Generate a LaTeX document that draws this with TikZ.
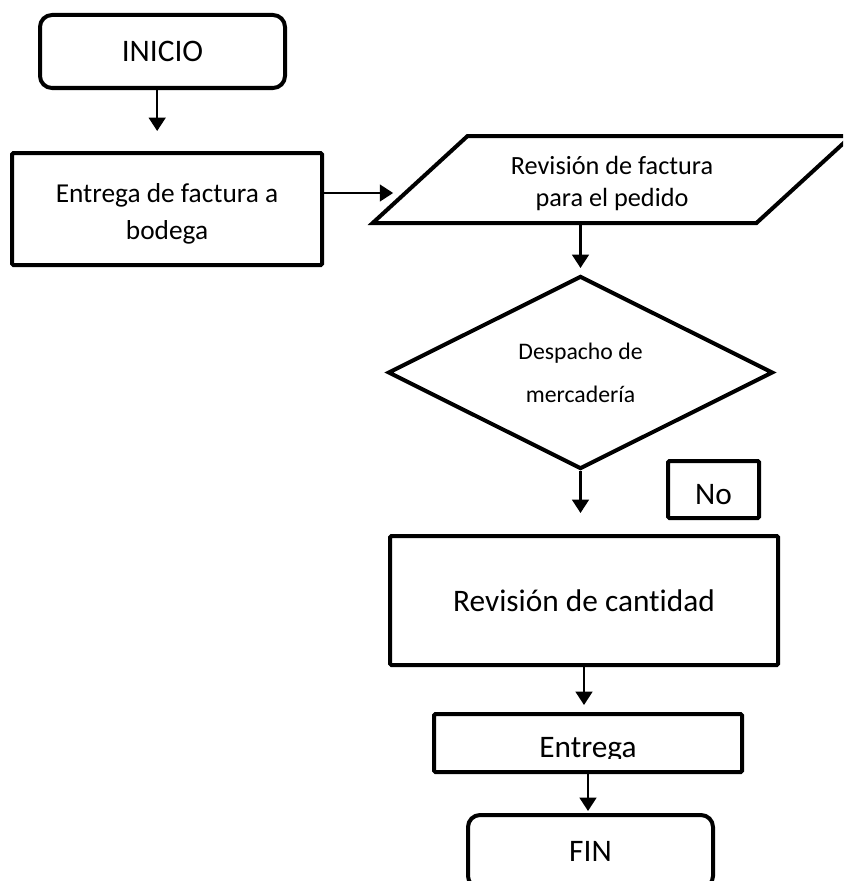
\documentclass[tikz,border=0pt]{standalone}
\usepackage{fontspec}
\setmainfont[Ligatures=NoCommon]{Carlito}
\usetikzlibrary{shapes.geometric,arrows.meta}

\tikzset{
	caja/.style={draw, line width=3pt, rectangle, rounded corners=1pt, inner sep=2pt,
		font=\fontsize{23.5}{28}\selectfont},
	terminal/.style={caja, rounded corners=9pt, minimum width=183.75pt, minimum height=54.75pt},
	datos/.style={draw, line width=3pt, trapezium, trapezium stretches=true,
		trapezium left angle=42.5, trapezium right angle=137.5,
		minimum width=360pt, minimum height=65.25pt, align=center,
		font=\fontsize{19.7}{24}\selectfont},
	decision/.style={draw, line width=3pt, diamond, aspect=2,
		minimum width=288.75pt, minimum height=144.75pt, align=center,
		font=\fontsize{17.8}{32.25}\selectfont},
	flecha/.style={line width=1.8pt, -{Triangle[width=12.5pt,length=10pt]}}
}

\begin{document}
\begin{tikzpicture}[x=0.75pt, y=-0.75pt]

		\clip (0,0) rectangle (843,881);

		\node[terminal] (inicio) at (162.5,51.5) {INICIO};
		\node[caja, minimum width=232.5pt, minimum height=84pt, align=center,
			text height=46pt, text depth=0pt,
			font=\fontsize{20.5}{27.75}\selectfont] (factura) at (167,209) {Entrega de factura a\\bodega};
		\node[datos, text height=41pt, text depth=0pt] (revision) at (612,179.5) {Revisión de factura\\para el pedido};
		\node[decision] (despacho) at (580.5,372.5) {Despacho de\\mercadería};
		\node[caja, minimum width=68.25pt, minimum height=42.75pt,
			text height=23pt, text depth=0pt] (no) at (713.5,489.5) {No};
		\node[caja, minimum width=291pt, minimum height=96.75pt] (cantidad) at (584,600.5) {Revisión de cantidad};
		\node[caja, minimum width=231pt, minimum height=43.5pt] (entrega) at (588,743) {};
		\begin{scope}
			\clip (434,714) rectangle (742,758);
			\node[anchor=base, font=\fontsize{23.5}{28}\selectfont] (entregatxt) at (588,757) {Entrega};
		\end{scope}
		\node[terminal] (fin) at (590.5,851.5) {FIN};

		\coordinate (f1) at ([xshift=-4pt]inicio.south);
		\coordinate (f2) at ([yshift=12pt]factura.east);

		\draw[flecha, shorten >=15pt] (f1) -- (f1 |- factura.north);
		\draw[flecha, shorten >=18pt] (f2) -- (f2 -| revision.west);
		\draw[flecha, shorten >=4.5pt] (despacho.north |- revision.south) -- (despacho.north);
		\draw[flecha, shorten >=15.75pt] (despacho.south) -- (despacho.south |- cantidad.north);
		\draw[flecha, shorten >=5.25pt] (cantidad.south) -- (cantidad.south |- entrega.north);
		\draw[flecha, shorten >=1.5pt] (entrega.south) -- (entrega.south |- fin.north);
	\end{tikzpicture}
\end{document}
